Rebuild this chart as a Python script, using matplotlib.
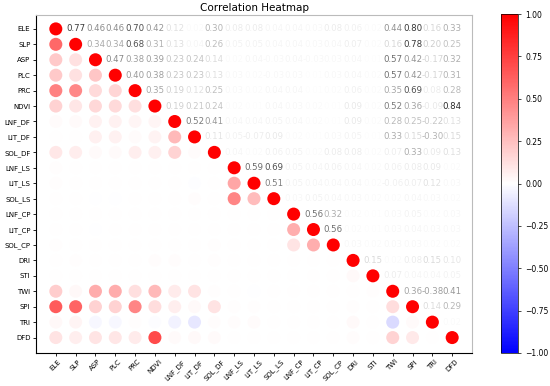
import numpy as np
import matplotlib
matplotlib.use('Agg')
from matplotlib import pyplot as plt
from matplotlib.cm import ScalarMappable
from matplotlib.colors import Normalize

labels = ['ELE', 'SLP', 'ASP', 'PLC', 'PRC', 'NDVI', 'LNF_DF', 'LIT_DF', 'SOL_DF',
          'LNF_LS', 'LIT_LS', 'SOL_LS', 'LNF_CP', 'LIT_CP', 'SOL_CP',
          'DRI', 'STI', 'TWI', 'SPI', 'TRI', 'DFD']

# upper triangle, row by row (values to the right of the diagonal)
upper = [
    [0.77, 0.46, 0.46, 0.70, 0.42, 0.12, 0.02, 0.30, 0.08, 0.08, 0.04, 0.04, 0.03, 0.08, 0.06, 0.02, 0.44, 0.80, 0.16, 0.33],
    [0.34, 0.34, 0.68, 0.31, 0.13, 0.04, 0.26, 0.05, 0.05, 0.04, 0.04, 0.03, 0.04, 0.07, 0.02, 0.16, 0.78, 0.20, 0.25],
    [0.47, 0.38, 0.39, 0.23, 0.24, 0.14, 0.02, 0.04, -0.03, 0.04, -0.03, 0.03, 0.04, 0.01, 0.57, 0.42, -0.17, 0.32],
    [0.40, 0.38, 0.23, 0.23, 0.13, 0.03, 0.02, -0.03, 0.03, 0.01, 0.03, 0.04, 0.02, 0.57, 0.42, -0.17, 0.31],
    [0.35, 0.19, 0.12, 0.25, 0.03, 0.02, 0.04, 0.04, 0.01, 0.02, 0.06, 0.02, 0.35, 0.69, 0.08, 0.28],
    [0.19, 0.21, 0.24, 0.02, 0.01, 0.04, 0.03, 0.02, 0.01, 0.09, 0.02, 0.52, 0.36, -0.09, 0.84],
    [0.52, 0.41, 0.04, 0.04, 0.05, 0.04, 0.02, 0.01, 0.09, 0.02, 0.28, 0.25, -0.22, 0.13],
    [0.11, 0.05, -0.07, 0.09, 0.02, 0.01, 0.03, 0.05, 0.01, 0.33, 0.15, -0.30, 0.15],
    [0.04, 0.02, 0.06, 0.05, 0.02, 0.08, 0.08, 0.02, 0.07, 0.33, 0.09, 0.13],
    [0.59, 0.69, 0.05, 0.04, 0.06, 0.04, 0.02, 0.06, 0.08, 0.09, 0.02],
    [0.51, 0.05, 0.04, 0.04, 0.04, 0.02, -0.06, 0.07, 0.12, 0.03],
    [0.03, 0.05, 0.04, 0.03, 0.02, 0.02, 0.04, 0.03, 0.02],
    [0.56, 0.32, 0.02, 0.01, 0.03, 0.05, 0.02, 0.03],
    [0.56, 0.02, 0.01, 0.03, 0.04, 0.03, 0.03],
    [0.03, 0.02, 0.03, 0.03, 0.02, 0.02],
    [0.15, 0.02, 0.08, 0.15, 0.10],
    [0.07, 0.04, 0.04, 0.05],
    [0.36, -0.38, 0.41],
    [0.14, 0.29],
    [0.02],
]

n = len(labels)
corr = np.eye(n)
for i, row in enumerate(upper):
    for k, v in enumerate(row):
        j = i + 1 + k
        corr[i, j] = v
        corr[j, i] = v

cmap = plt.get_cmap('bwr')
norm = Normalize(vmin=-1, vmax=1)

fig = plt.figure(figsize=(5.5, 3.86), dpi=100)
ax = fig.add_axes([36 / 550, 1 - 353 / 386, 436 / 550, 338 / 386])
cax = fig.add_axes([501 / 550, 1 - 353 / 386, 17 / 550, 339 / 386])

for i in range(n):
    for j in range(n):
        r = corr[i, j]
        if j <= i:
            c = cmap(norm(r))
            ax.scatter(j, i, s=88, color=c, alpha=min(1.0, abs(r)), edgecolors='none')
        else:
            ax.text(j, i, f'{r:.2f}', ha='center', va='center', fontsize=6.2,
                    color='black', alpha=min(1.0, abs(r)))

ax.set_xlim(-1, 21)
ax.set_ylim(21, -0.9)
ax.set_xticks(range(n))
ax.set_xticklabels(labels, rotation=45, fontsize=5)
ax.set_yticks(range(n))
ax.set_yticklabels(labels, fontsize=5)
ax.tick_params(length=2.5, width=0.6, pad=1.5)
for s in ['top', 'right']:
    ax.spines[s].set_color('#bbbbbb')
for s in ['left', 'bottom']:
    ax.spines[s].set_linewidth(0.8)
ax.set_title('Correlation Heatmap', fontsize=7.5, pad=3)

sm = ScalarMappable(norm=norm, cmap=cmap)
cb = fig.colorbar(sm, cax=cax, ticks=np.arange(-1, 1.01, 0.25))
cb.ax.set_yticklabels([f'{t:.2f}'.replace('-', '\u2212') for t in np.arange(-1, 1.01, 0.25)])
cb.ax.tick_params(labelsize=5.5, length=2, width=0.5)
cb.outline.set_linewidth(0.5)

fig.savefig('out.png', dpi=100)
